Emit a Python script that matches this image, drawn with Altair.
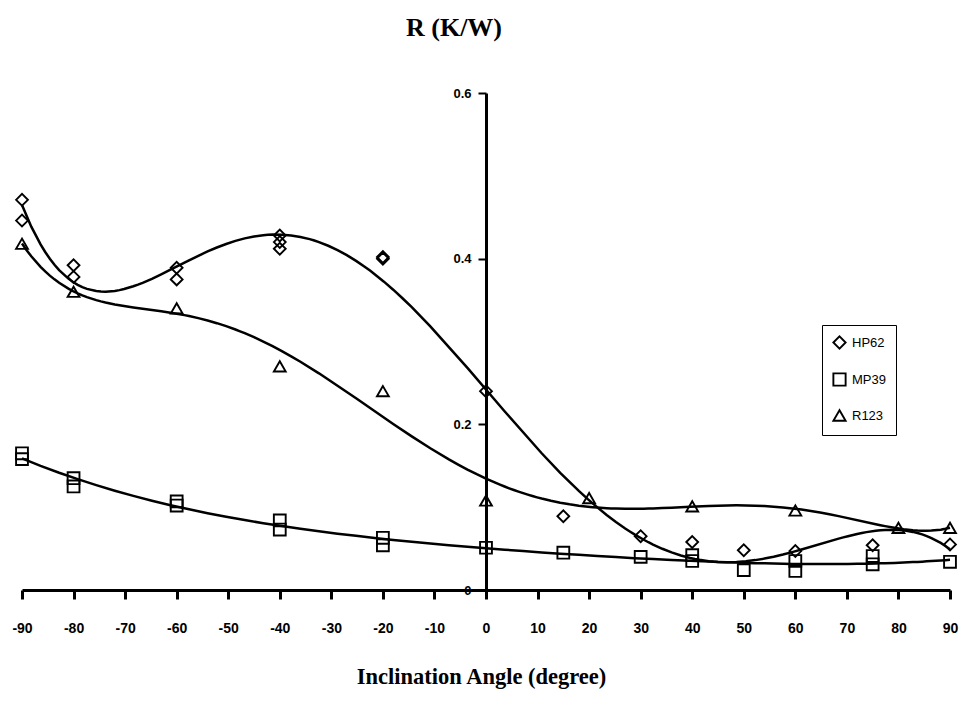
import altair as alt
import pandas as pd

# ---- data ----
hp62_angle = [-90, -90, -80, -80, -60, -60, -40, -40, -40, -20, -20, 0, 15, 30, 40, 50, 60, 75, 90]
hp62_r = [0.471, 0.446, 0.392, 0.378, 0.389, 0.375, 0.428, 0.420, 0.412, 0.402, 0.400,
          0.240, 0.089, 0.065, 0.058, 0.048, 0.047, 0.054, 0.055]

mp39_angle = [-90, -90, -80, -80, -60, -60, -40, -40, -20, -20, 0, 15, 30, 40, 40, 50, 60, 60, 75, 75, 90]
mp39_r = [0.165, 0.158, 0.135, 0.125, 0.107, 0.102, 0.084, 0.073, 0.063, 0.054, 0.051,
          0.045, 0.040, 0.042, 0.035, 0.024, 0.035, 0.023, 0.041, 0.031, 0.034]

r123_angle = [-90, -80, -60, -40, -20, 0, 20, 40, 60, 80, 90]
r123_r = [0.418, 0.360, 0.340, 0.270, 0.240, 0.108, 0.111, 0.101, 0.096, 0.075, 0.075]

series_names = ["HP62", "MP39", "R123"]
x_ticks = list(range(-90, 91, 10))
y_ticks = [0, 0.2, 0.4, 0.6]

df = pd.concat([
    pd.DataFrame({"series": "HP62", "angle": hp62_angle, "R": hp62_r}),
    pd.DataFrame({"series": "MP39", "angle": mp39_angle, "R": mp39_r}),
    pd.DataFrame({"series": "R123", "angle": r123_angle, "R": r123_r}),
], ignore_index=True)

W, H = 928, 497

x_scale = alt.Scale(domain=[-90, 90], nice=False, zero=False)
y_scale = alt.Scale(domain=[0, 0.6], nice=False)

x_axis = alt.Axis(
    values=x_ticks, grid=False, title="Inclination Angle (degree)",
    labelExpr="'' + datum.value",
    domainColor="black", domainWidth=3, tickColor="black", tickWidth=3, tickSize=9,
    labelFont="Liberation Sans", labelFontWeight="bold", labelFontSize=14, labelColor="black",
    labelPadding=22, labelFlush=False, labelOverlap=False,
    titleFont="Liberation Serif", titleFontSize=22.5, titleFontWeight="bold", titleColor="black",
    titleY=93, titleX=459, titleBaseline="alphabetic",
)

y_axis = alt.Axis(
    values=y_ticks, grid=False, title=None, offset=-(W / 2),
    labelExpr="datum.value == 0 ? '0' : format(datum.value, '.1f')",
    domainColor="black", domainWidth=3, tickColor="black", tickWidth=2, tickSize=8,
    labelFont="Liberation Sans", labelFontWeight="bold", labelFontSize=13, labelColor="black",
    labelPadding=7, labelFlush=False, labelOverlap=False,
)

shape_scale = alt.Scale(domain=series_names, range=["diamond", "square", "triangle-up"])

points = alt.Chart(df).mark_point(
    filled=False, color="black", strokeWidth=1.9, size=140, opacity=1
).encode(
    x=alt.X("angle:Q", scale=x_scale, axis=x_axis),
    y=alt.Y("R:Q", scale=y_scale, axis=y_axis),
    shape=alt.Shape("series:N", scale=shape_scale,
                    legend=alt.Legend(title=None, orient="none", legendX=800, legendY=232,
                                      strokeColor="black", fillColor="white", padding=10,
                                      rowPadding=16, labelFontSize=13, labelFont="Liberation Sans",
                                      labelColor="black", symbolStrokeColor="black",
                                      symbolStrokeWidth=1.9, symbolSize=150, symbolFillColor="white",
                                      labelOffset=5)),
)

def trend(name, order):
    return alt.Chart(df).transform_filter(
        alt.datum.series == name
    ).transform_regression(
        "angle", "R", method="poly", order=order, extent=[-90, 90]
    ).mark_line(color="black", strokeWidth=2.5).encode(
        x=alt.X("angle:Q", scale=x_scale, axis=x_axis),
        y=alt.Y("R:Q", scale=y_scale, axis=y_axis),
    )

chart = alt.layer(
    trend("HP62", 6), trend("MP39", 4), trend("R123", 6), points
).properties(
    width=W, height=H,
    title=alt.TitleParams("R (K/W)", font="Liberation Serif", fontSize=26, fontWeight="bold",
                          color="black", anchor="middle", offset=46, dx=-32),
    autosize=alt.AutoSizeParams(type="none"),
    padding={"left": 22, "top": 93, "right": 10, "bottom": 130},
    background="white",
).configure_view(strokeWidth=0, stroke="transparent")

chart.save("out.html", embed_options={"renderer": "svg", "actions": False})
